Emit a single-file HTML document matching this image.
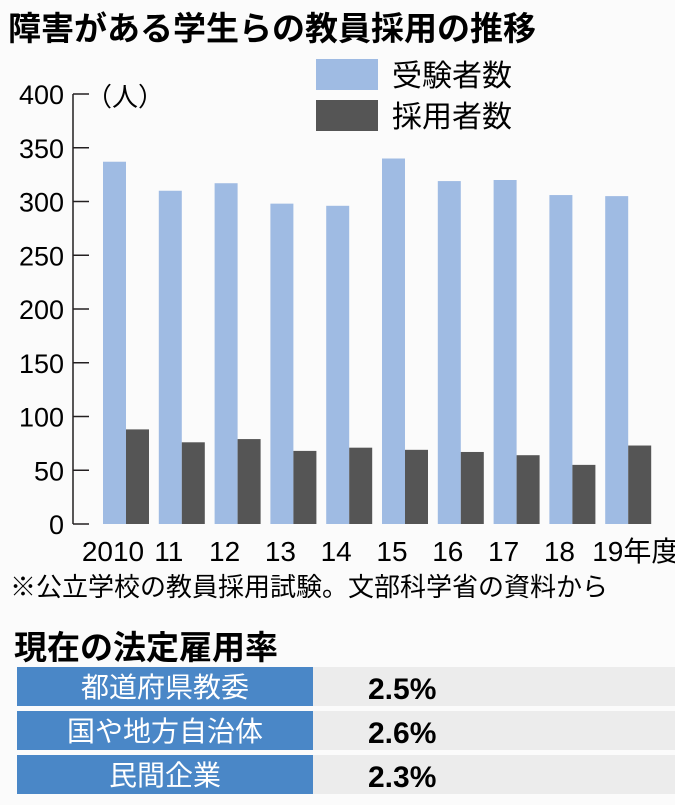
<!DOCTYPE html>
<html><head><meta charset="utf-8"><style>
body{margin:0;width:675px;height:800px;background:#fbfbfb;overflow:hidden;font-family:"Liberation Sans","Noto Sans CJK JP",sans-serif;color:#231f20}
svg text{font-family:"Liberation Sans","Noto Sans CJK JP",sans-serif}
</style></head><body>
<svg width="675" height="800">
<text x="8" y="40" font-size="33" font-weight="bold">障害がある学生らの教員採用の推移</text>
<rect x="316" y="59" width="62" height="31" fill="#9fbbe3"/>
<text x="392" y="86" font-size="30">受験者数</text>
<rect x="316" y="100" width="62" height="31" fill="#555555"/>
<text x="392" y="127" font-size="30">採用者数</text>
<text x="86" y="106" font-size="26">（人）</text>
<g id="axes"></g><g id="bars"></g>
<text x="10" y="596" font-size="26">※公立学校の教員採用試験。文部科学省の資料から</text>
<text x="14" y="659" font-size="33" font-weight="bold">現在の法定雇用率</text>
<g id="table"></g>
</svg>
<script>
const categories=["2010","11","12","13","14","15","16","17","18","19年度"];
const applicants=[337,310,317,298,296,340,319,320,306,305];
const hired=[88,76,79,68,71,69,67,64,55,73];
const yTicks=[0,50,100,150,200,250,300,350,400];
const rateLabels=["都道府県教委","国や地方自治体","民間企業"];
const rateValues=["2.5%","2.6%","2.3%"];
const NS="http://www.w3.org/2000/svg";
function y(v){return 524-v*1.075;}
function x(i){return 103+i*55.8;}
function mk(t,a,p,txt){const e=document.createElementNS(NS,t);for(const k in a)e.setAttribute(k,a[k]);if(txt!==undefined)e.textContent=txt;p.appendChild(e);return e;}
const ax=document.getElementById('axes'),bars=document.getElementById('bars'),tb=document.getElementById('table');
const al=mk('line',{x1:73,x2:73,y1:y(400),y2:y(0),stroke:'#231f20','stroke-width':1.5},ax);


yTicks.forEach(v=>{
 const l=mk('line',{x1:73,x2:89,y1:y(v),y2:y(v),stroke:'#231f20','stroke-width':1.5},ax);
 
 
 const t=mk('text',{x:64,y:y(v)+10,'font-size':27,'text-anchor':'end'},ax,String(v));
 
 
});
categories.forEach((c,i)=>{
 const b=mk('rect',{x:x(i),y:y(applicants[i]),width:23,height:y(0)-y(applicants[i]),fill:'#9fbbe3'},bars);
 
 
 const d=mk('rect',{x:x(i)+23,y:y(hired[i]),width:23,height:y(0)-y(hired[i]),fill:'#555555'},bars);
 
 
 const last=i===categories.length-1;
 const t=mk('text',{x:last?x(i)-13:x(i)+10,y:561,'font-size':28,'text-anchor':last?'start':'middle'},bars,c);
 
 
});
rateLabels.forEach((l,i)=>{
 const y0=667+i*44;
 const g=mk('rect',{x:313,y:y0,width:362,height:39,fill:'#ececec'},tb);
 
 
 const r=mk('rect',{x:17,y:y0,width:296,height:39,fill:'#4a87c7'},tb);
 
 
 const t=mk('text',{x:165,y:y0+30,'font-size':28,fill:'#fff','text-anchor':'middle'},tb,l);
 
 
 const v=mk('text',{x:368,y:y0+32,'font-size':30,'font-weight':'bold'},tb,rateValues[i]);
 
 
});
</script>
</body></html>
